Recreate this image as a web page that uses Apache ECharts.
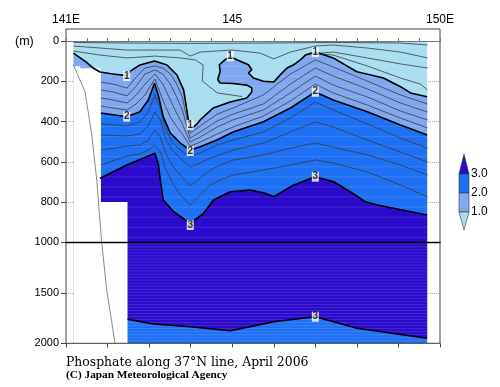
<!DOCTYPE html>
<html><head><meta charset="utf-8">
<script src="https://cdn.jsdelivr.net/npm/echarts@6/dist/echarts.min.js"></script>
<style>html,body{margin:0;padding:0;background:#fff}#c{width:500px;height:387px}</style>
</head><body><div id="c"></div>
<script>
// ---- axis ticks / labels ----
const upperDepthTicks = [0, 200, 400, 600, 800, 1000];
const lowerDepthTicks = [1000, 1500, 2000];
const lonTicks = [141, 142, 143, 144, 145, 146, 147, 148, 149, 150];
const lonTickLabels = {141: '141E', 145: '145', 150: '150E'};
const levelLabels = ['3.0', '2.0', '1.0'];

// ---- contour lines read from the section: [longitude E, depth m] ----
const iso10 = [[141.18,60],[141.48,104],[141.65,134],[141.82,154],[142.13,164],[142.46,172],[142.55,150],[142.78,119],[143.13,99],[143.43,119],[143.67,169],[143.83,243],[143.91,343],[143.95,402],[144.01,437],[144.13,417],[144.23,392],[144.54,333],[144.95,303],[145.35,283],[145.47,253],[145.47,233],[145.35,219],[145.02,211],[144.71,209],[144.65,192],[144.71,151],[144.69,118],[144.83,93],[144.95,76],[145.11,93],[145.39,118],[145.47,143],[145.39,159],[145.51,184],[145.75,200],[146.00,204],[146.16,167],[146.32,134],[146.48,118],[146.64,94],[146.76,70],[147.00,55],[147.43,84],[148.00,153],[148.64,184],[149.05,227],[149.29,258],[149.69,277]];
const iso20 = [[141.84,358],[142.46,376],[142.78,351],[142.98,293],[143.13,210],[143.22,268],[143.34,376],[143.51,457],[143.75,507],[143.99,542],[144.23,525],[144.63,492],[145.02,452],[145.75,401],[146.40,333],[147.00,253],[147.43,293],[148.25,351],[149.05,417],[149.69,467]];
const iso30Upper = [[141.82,682],[142.46,616],[143.14,558],[143.22,608],[143.27,691],[143.34,790],[143.59,848],[143.99,906],[144.31,856],[144.55,790],[144.95,749],[145.43,740],[145.75,754],[146.00,773],[146.48,715],[147.00,674],[147.44,699],[147.84,749],[148.20,798],[148.49,815],[149.69,864]];
const iso30Lower = [[142.48,1762],[143.10,1809],[143.99,1836],[144.95,1875],[145.43,1836],[146.00,1786],[147.00,1737],[148.00,1851],[149.69,1950]];

const iso12 = [[141.84,204],[142.13,214],[142.47,234],[142.69,179],[142.90,134],[143.14,124],[143.33,134],[143.51,164],[143.65,209],[143.80,278],[143.89,368],[143.99,457],[144.23,422],[144.64,363],[145.02,333],[145.75,268],[146.40,164],[147.00,94],[147.43,129],[148.25,199],[149.05,268],[149.70,313]];
const iso14 = [[141.84,243],[142.13,253],[142.47,273],[142.69,224],[142.90,164],[143.14,144],[143.33,164],[143.51,214],[143.65,273],[143.80,343],[143.89,412],[143.99,482],[144.23,452],[144.64,397],[145.02,363],[145.75,313],[146.40,214],[147.00,134],[147.43,174],[148.25,238],[149.05,308],[149.70,353]];
const iso16 = [[141.84,283],[142.13,293],[142.47,308],[142.69,268],[142.90,214],[143.14,164],[143.33,214],[143.51,293],[143.65,353],[143.80,412],[143.89,457],[143.99,502],[144.23,477],[144.64,427],[145.02,392],[145.75,343],[146.40,258],[147.00,174],[147.43,219],[148.25,278],[149.05,348],[149.70,392]];
const iso18 = [[141.84,323],[142.13,333],[142.47,343],[142.69,313],[142.90,268],[143.14,189],[143.33,293],[143.51,378],[143.65,422],[143.80,462],[143.89,492],[143.99,522],[144.23,502],[144.64,462],[145.02,427],[145.75,373],[146.40,298],[147.00,214],[147.43,258],[148.25,318],[149.05,383],[149.70,432]];
const iso22 = [[141.84,412],[142.47,422],[142.78,402],[142.98,353],[143.14,268],[143.27,335],[143.39,432],[143.55,502],[143.75,542],[143.99,576],[144.23,556],[144.47,532],[144.71,512],[145.02,492],[145.75,452],[146.40,383],[147.00,303],[147.43,343],[148.25,412],[149.05,482],[149.70,532]];
const iso24 = [[141.84,467],[142.47,472],[142.78,462],[142.98,422],[143.14,353],[143.27,392],[143.39,482],[143.55,542],[143.75,581],[143.99,626],[144.23,606],[144.47,581],[144.71,566],[145.02,542],[145.75,507],[146.40,452],[147.00,402],[147.43,427],[148.25,492],[149.05,552],[149.70,601]];
const iso26 = [[141.84,542],[142.47,522],[142.78,517],[142.98,492],[143.14,442],[143.27,477],[143.39,552],[143.55,616],[143.75,666],[143.99,720],[144.23,681],[144.47,641],[144.71,616],[145.02,591],[145.75,566],[146.40,532],[147.00,507],[147.43,527],[148.25,566],[149.05,616],[149.70,666]];
const iso28 = [[141.84,616],[142.47,571],[142.78,561],[142.98,542],[143.14,517],[143.27,552],[143.39,631],[143.55,700],[143.75,765],[143.99,815],[144.23,765],[144.47,715],[144.71,691],[145.02,666],[145.75,641],[146.40,616],[147.00,591],[147.43,606],[148.25,651],[149.05,715],[149.70,775]];

// shallow (< 1.0) contours
const shallow1 = [[141.18,7],[142.47,10],[143.99,12],[146.0,10],[147.43,7],[149.05,10],[149.70,20]];
const shallow2 = [[141.18,25],[141.82,35],[142.47,45],[143.14,45],[143.75,45],[143.99,75],[144.23,55],[145.0,45],[145.67,60],[146.0,89],[146.40,55],[147.0,25],[147.43,20],[148.25,35],[149.05,55],[149.70,84]];
const shallow3 = [[141.18,50],[141.82,70],[142.47,84],[143.14,75],[143.75,84],[144.11,94],[144.30,119],[144.28,199],[144.64,258],[145.24,276]];
const shallow4 = [[146.83,65],[147.43,55],[148.25,84],[149.05,114],[149.70,134]];
const shallow5 = [[146.88,60],[147.43,70],[148.25,124],[149.05,184],[149.53,214],[149.70,243]];

// area without observations and the sea floor
const noData = [[141.18,125],[141.34,125],[141.34,135],[141.84,135],[141.84,800],[142.48,800],[142.48,2000],[141.18,2000]];
const seaFloor = [[141.18,119],[141.46,253],[141.62,467],[141.74,691],[141.86,1005],[141.98,1472],[142.18,2000]];

// contour labels [lon, depth, text]
const contourLabels = [[142.46,174,'1'],[143.99,417,'1'],[144.95,76,'1'],[147.0,55,'1'],[142.46,376,'2'],[143.99,547,'2'],[147.0,252,'2'],[143.99,914,'3'],[147.0,674,'3'],[147.0,1737,'3']];

// ---- styles ----
const C = {light: '#a8def0', mid: '#80a8f0', bright: '#1e70f5', dark: '#2a0acb'};
const x0 = iso10[0][0], x1 = iso10[iso10.length - 1][0], zBottom = lowerDepthTicks[lowerDepthTicks.length - 1];

const fills = [
  {poly: [[x0, 0], [x1, 0], [x1, zBottom], [x0, zBottom]], color: C.light},
  {poly: iso10.concat([[x1, zBottom], [x0, zBottom]]), color: C.mid},
  {poly: iso20.concat([[x1, zBottom], [iso20[0][0], zBottom]]), color: C.bright},
  {poly: iso30Upper.concat(iso30Lower.slice().reverse()).concat([[iso30Upper[0][0], iso30Lower[0][1]]]), color: C.dark},
  {stripes: true},
  {poly: noData, color: '#ffffff'}
];

const thickLines = [iso10, iso20, iso30Upper, iso30Lower];
const thinLines = [iso12, iso14, iso16, iso18, iso22, iso24, iso26, iso28, shallow1, shallow2, shallow3, shallow4, shallow5];

const series = [];
[0, 1].forEach(g => {
  series.push({
    type: 'custom', xAxisIndex: g, yAxisIndex: g, clip: true, z: 1, silent: true,
    data: fills.map((f, i) => [x0, 0, i]),
    renderItem: (params, api) => {
      const f = fills[params.dataIndex];
      if (f.stripes) {
        // faint rendering texture of the original plot (horizontal banding)
        const step = g === 0 ? 50 : 30;
        const from = g === 0 ? 25 : 1015;
        const to = g === 0 ? 1000 : 2000;
        const kids = [];
        for (let d = from; d < to; d += step) {
          const a = api.coord([x0, d]), b = api.coord([x1, d]);
          kids.push({type: 'line', shape: {x1: a[0], y1: a[1], x2: b[0], y2: b[1]}, style: {stroke: 'rgba(255,255,255,0.13)', lineWidth: 1}});
        }
        return {type: 'group', children: kids};
      }
      return {type: 'polygon', shape: {points: f.poly.map(p => api.coord(p))}, style: {fill: f.color}};
    }
  });
  thinLines.forEach(d => series.push({
    type: 'line', xAxisIndex: g, yAxisIndex: g, data: d, symbol: 'none', z: 3, silent: true,
    lineStyle: {color: '#3a3a3a', width: 0.8}
  }));
  thickLines.forEach(d => series.push({
    type: 'line', xAxisIndex: g, yAxisIndex: g, data: d, symbol: 'none', z: 4, silent: true,
    lineStyle: {color: '#000', width: 1.6}
  }));
  series.push({
    type: 'line', xAxisIndex: g, yAxisIndex: g, data: seaFloor, symbol: 'none', z: 4, silent: true,
    lineStyle: {color: '#8a8a8a', width: 1}
  });
});
const labelStyle = {show: true, position: 'inside', formatter: p => p.value[2], color: '#000', fontSize: 10, fontWeight: 'bold', fontFamily: 'Liberation Sans'};
series.push({
  type: 'scatter', xAxisIndex: 0, yAxisIndex: 0, z: 6, silent: true,
  data: contourLabels.filter(d => d[1] <= 1000),
  symbol: 'rect', symbolSize: [7, 10], itemStyle: {color: '#fff'}, label: labelStyle
});
series.push({
  type: 'scatter', xAxisIndex: 1, yAxisIndex: 1, z: 6, silent: true,
  data: contourLabels.filter(d => d[1] > 1000),
  symbol: 'rect', symbolSize: [7, 10], itemStyle: {color: '#fff'}, label: labelStyle
});

const axisFont = {color: '#000', fontFamily: 'Liberation Sans'};
const lonMin = lonTicks[0], lonMax = lonTicks[lonTicks.length - 1];

const option = {
  animation: false,
  backgroundColor: '#fff',
  grid: [
    {left: 66, right: 60, top: 41, height: 201.3},
    {left: 66, right: 60, top: 242.3, height: 101},
    {left: 66, right: 60, top: 29, height: 314.3, show: true, borderColor: '#444', borderWidth: 1, z: 20}
  ],
  xAxis: [
    {gridIndex: 0, type: 'value', min: lonMin, max: lonMax, interval: 0.5, position: 'top', z: 20,
     axisLine: {show: true, lineStyle: {color: '#777', width: 1}}, axisTick: {show: true, inside: false, length: 3, lineStyle: {color: '#777'}},
     axisLabel: {show: false}, splitLine: {show: false}},
    {gridIndex: 1, type: 'value', min: lonMin, max: lonMax, position: 'top', z: 20,
     axisLine: {show: true, lineStyle: {color: '#000', width: 1.4}}, axisTick: {show: false},
     axisLabel: {show: false}, splitLine: {show: false}},
    {gridIndex: 2, type: 'value', min: lonMin, max: lonMax, interval: 1, position: 'top', z: 20,
     axisLine: {show: false}, axisTick: {show: true, inside: true, length: 4, lineStyle: {color: '#444'}},
     axisLabel: Object.assign({show: true, fontSize: 12, margin: 3, formatter: v => lonTickLabels[v] || ''}, axisFont),
     splitLine: {show: false}}
  ],
  yAxis: [
    {gridIndex: 0, type: 'value', inverse: true, min: upperDepthTicks[0], max: upperDepthTicks[upperDepthTicks.length - 1], interval: 200,
     axisLine: {show: false}, axisTick: {show: true, length: 5, lineStyle: {color: '#444'}},
     axisLabel: Object.assign({fontSize: 11, margin: 7, formatter: v => upperDepthTicks.includes(v) ? String(v) : ''}, axisFont),
     splitLine: {show: true, lineStyle: {type: 'dotted', color: '#aaa', width: 1}}},
    {gridIndex: 1, type: 'value', inverse: true, min: lowerDepthTicks[0], max: zBottom, interval: 500,
     axisLine: {show: false}, axisTick: {show: true, length: 5, lineStyle: {color: '#444'}},
     axisLabel: Object.assign({fontSize: 11, margin: 7, formatter: v => (v !== lowerDepthTicks[0] && lowerDepthTicks.includes(v)) ? String(v) : ''}, axisFont),
     splitLine: {show: true, lineStyle: {type: 'dotted', color: '#aaa', width: 1}}},
    {gridIndex: 2, type: 'value', min: 0, max: 1, show: false}
  ],
  graphic: [
    {type: 'text', left: 15, top: 35, style: {text: '(m)', font: '12.5px "Liberation Sans"', fill: '#000'}},
    {type: 'text', x: 66, y: 357, style: {text: 'Phosphate along 37°N line, April 2006', font: '12.4px "DejaVu Serif"', fill: '#000', verticalAlign: 'alphabetic'}},
    {type: 'text', x: 66, y: 369.5, style: {text: '(C) Japan Meteorological Agency', font: 'bold 11.3px "Liberation Serif"', fill: '#000', verticalAlign: 'alphabetic'}},
    {type: 'polygon', shape: {points: [[459, 174], [469, 174], [464, 154]]}, style: {fill: C.dark, stroke: '#333', lineWidth: 0.6}},
    {type: 'rect', shape: {x: 459, y: 174, width: 10, height: 19}, style: {fill: C.bright, stroke: '#333', lineWidth: 0.6}},
    {type: 'rect', shape: {x: 459, y: 193, width: 10, height: 19}, style: {fill: C.mid, stroke: '#333', lineWidth: 0.6}},
    {type: 'polygon', shape: {points: [[459, 212], [469, 212], [464, 230]]}, style: {fill: C.light, stroke: '#333', lineWidth: 0.6}},
    {type: 'text', x: 471, y: 174, style: {text: levelLabels[0], font: '12px "Liberation Sans"', fill: '#000', verticalAlign: 'middle'}},
    {type: 'text', x: 471, y: 193, style: {text: levelLabels[1], font: '12px "Liberation Sans"', fill: '#000', verticalAlign: 'middle'}},
    {type: 'text', x: 471, y: 212, style: {text: levelLabels[2], font: '12px "Liberation Sans"', fill: '#000', verticalAlign: 'middle'}}
  ],
  series: series
};
const chart = echarts.init(document.getElementById('c'), null, {renderer: 'canvas'});
chart.setOption(option);
</script></body></html>
